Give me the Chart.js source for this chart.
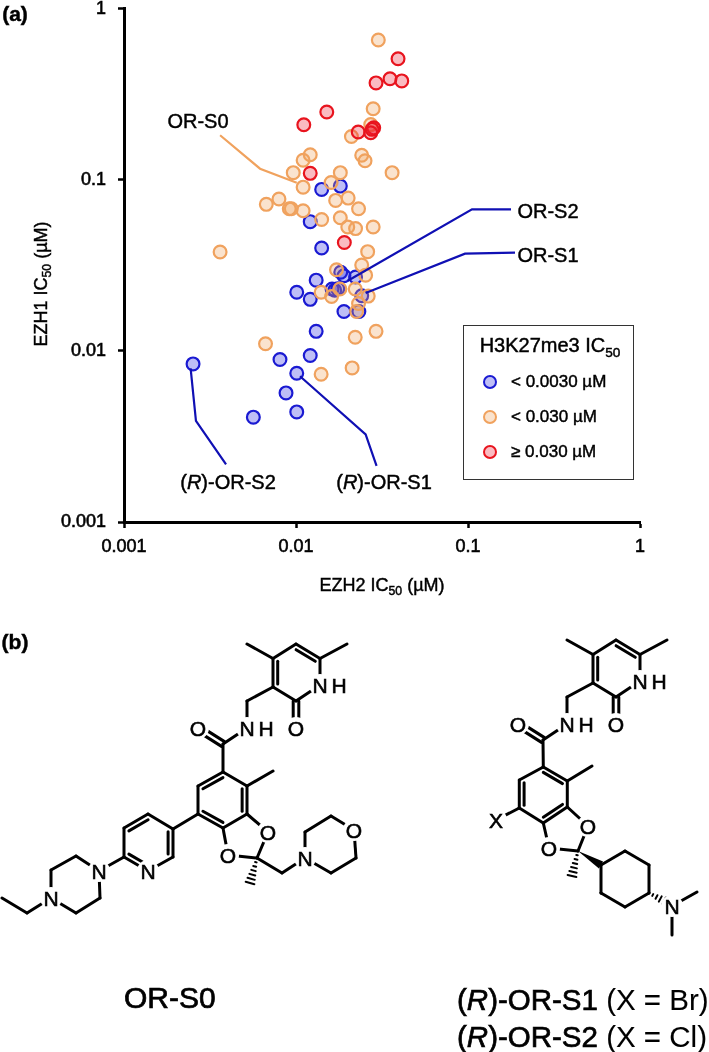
<!DOCTYPE html>
<html>
<head>
<meta charset="utf-8">
<script src="https://cdn.jsdelivr.net/npm/chart.js@4"></script>
<style>
body { margin: 0; background: #fff; }
#page { position: relative; width: 709px; height: 1052px; overflow: hidden; font-family: "Liberation Sans", sans-serif; color: #000; }
#myChart { position: absolute; left: 0; top: 0; }
#mol { position: absolute; left: 0; top: 0; }
.t { position: absolute; transform: translate(-50%, -50%); white-space: nowrap; -webkit-text-stroke: 0.45px #000; }
.t sub { font-size: 0.68em; line-height: 0; }
.l20 { font-size: 20px; }
.l18 { font-size: 18px; }
.big { font-size: 29.5px; -webkit-text-stroke: 0.7px #000; transform: translate(0, -50%); }
.big span { -webkit-text-stroke: 0.1px #000; }
#legendBox { position: absolute; left: 463px; top: 325px; width: 169px; height: 153px; border: 1.5px solid #333; box-sizing: content-box; background: #fff; }
.dot { position: absolute; width: 10px; height: 10px; border-width: 2px; border-style: solid; border-radius: 50%; transform: translate(-50%, -50%); }
</style>
</head>
<body>
<div id="page">
  <canvas id="myChart" width="709" height="610"></canvas>
  <svg id="mol" width="709" height="1052"></svg>
  <div class="t" style="left:15px;top:14px;font-size:21px;font-weight:bold">(a)</div>
  <div class="t" style="left:15px;top:642px;font-size:21px;font-weight:bold">(b)</div>
  <div class="t l18" style="left:382px;top:585px">EZH2 IC<sub>50</sub> (µM)</div>
  <div class="t l18" style="left:41px;top:284px;transform:translate(-50%,-50%) rotate(-90deg)">EZH1 IC<sub>50</sub> (µM)</div>
  <div class="t l20" style="left:198px;top:121px">OR-S0</div>
  <div class="t l20" style="left:548px;top:211px">OR-S2</div>
  <div class="t l20" style="left:548px;top:255px">OR-S1</div>
  <div class="t l20" style="left:228px;top:482px">(<i>R</i>)-OR-S2</div>
  <div class="t l20" style="left:384px;top:482px">(<i>R</i>)-OR-S1</div>
  <div id="legendBox"></div>
  <div class="t big" style="left:124px;top:998px;font-size:30px">OR-S0</div>
  <div class="t big" style="left:457px;top:1000px">(<i>R</i>)-OR-S1<span> (X = Br)</span></div>
  <div class="t big" style="left:457px;top:1037px">(<i>R</i>)-OR-S2<span> (X = Cl)</span></div>
</div>
<script>
var axisTicks = [0.001, 0.01, 0.1, 1];

var blueX = [0.0141, 0.0181, 0.0121, 0.0141, 0.0182, 0.0190, 0.0222, 0.0131, 0.0101, 0.0121, 0.0162, 0.0168, 0.0175, 0.0241, 0.0190, 0.0232, 0.0131, 0.00252, 0.0121, 0.00807, 0.0101, 0.00875, 0.0101, 0.00565];
var blueY = [0.0878, 0.0918, 0.0569, 0.0399, 0.0288, 0.0275, 0.0270, 0.0259, 0.0220, 0.0200, 0.0230, 0.0226, 0.0231, 0.0210, 0.0170, 0.0170, 0.0130, 0.00839, 0.00939, 0.00890, 0.00740, 0.00568, 0.00440, 0.00410];

var orangeX = [0.0301, 0.0281, 0.0272, 0.0210, 0.0241, 0.0252, 0.0121, 0.0110, 0.00964, 0.0181, 0.0362, 0.0160, 0.0110, 0.00796, 0.00672, 0.00914, 0.00939, 0.0110, 0.0170, 0.0201, 0.0231, 0.0141, 0.0181, 0.0200, 0.0222, 0.0281, 0.00362, 0.0261, 0.0241, 0.0172, 0.0254, 0.0140, 0.0161, 0.0180, 0.0221, 0.0263, 0.0231, 0.0225, 0.0292, 0.0221, 0.00665, 0.0140, 0.0212];
var orangeY = [0.656, 0.260, 0.210, 0.179, 0.139, 0.129, 0.140, 0.130, 0.110, 0.110, 0.110, 0.0964, 0.0905, 0.0771, 0.0718, 0.0677, 0.0677, 0.0659, 0.0757, 0.0781, 0.0677, 0.0586, 0.0600, 0.0529, 0.0518, 0.0529, 0.0378, 0.0380, 0.0317, 0.0298, 0.0277, 0.0220, 0.0208, 0.0230, 0.0230, 0.0209, 0.0189, 0.0170, 0.0130, 0.0120, 0.0110, 0.00730, 0.00795];

var redX = [0.0392, 0.0352, 0.0412, 0.0292, 0.0151, 0.0111, 0.0283, 0.0230, 0.0272, 0.0277, 0.0121, 0.0191];
var redY = [0.509, 0.389, 0.378, 0.368, 0.249, 0.2095, 0.201, 0.190, 0.188, 0.197, 0.109, 0.0430];

// leader lines from the compound names to their points
var leadS0X = [0.00362, 0.00618, 0.0101];
var leadS0Y = [0.182, 0.116, 0.0960];
var leadS2X = [0.0200, 0.1055, 0.1778];
var leadS2Y = [0.0257, 0.0671, 0.0671];
var leadS1X = [0.0254, 0.0961, 0.1876];
var leadS1Y = [0.0218, 0.0370, 0.0375];
var leadRS2X = [0.00244, 0.00262, 0.00392];
var leadRS2Y = [0.00789, 0.00390, 0.00217];
var leadRS1X = [0.01055, 0.0254, 0.0294];
var leadRS1Y = [0.00711, 0.00325, 0.00213];

var legendTitle = "H3K27me3 IC<sub>50</sub>";
var legendLabels = ["< 0.0030 µM", "< 0.030 µM", "≥ 0.030 µM"];

var blueLine = "#1a1ad2", orangeLine = "#f0a25e", redLine = "#e8141e";
var blueFill = "rgba(40,40,225,0.30)", orangeFill = "rgba(240,162,94,0.30)", redFill = "rgba(240,30,50,0.30)";

function zip(xs, ys) {
    return xs.map(function (x, i) { return { x: x, y: ys[i] }; });
}
function pointSet(label, xs, ys, line, fill, order) {
    return { label: label, data: zip(xs, ys), borderColor: line, backgroundColor: fill, borderWidth: 2.2, pointRadius: 6.4, order: order };
}
function leader(xs, ys, color) {
    return { data: zip(xs, ys), showLine: true, borderColor: color, borderWidth: 2.2, pointRadius: 0, tension: 0, order: 0 };
}
function logAxis(labelPad) {
    return {
        type: 'logarithmic',
        min: 0.001,
        max: 1,
        border: { display: true, color: '#000', width: 3 },
        grid: { drawOnChartArea: false, drawTicks: true, tickLength: 6, tickWidth: 2.5, tickColor: '#000' },
        afterBuildTicks: function (s) { s.ticks = axisTicks.map(function (v) { return { value: v }; }); },
        ticks: {
            autoSkip: false, maxRotation: 0, padding: labelPad, color: '#000',
            textStrokeColor: '#000', textStrokeWidth: 0.6,
            font: { family: '"Liberation Sans"', size: 18 },
            callback: function (v) { return String(v); }
        }
    };
}

var xAxis = logAxis(8);
xAxis.afterFit = function (s) { s.height = 610 - 522; };
var yAxis = logAxis(12);
yAxis.afterFit = function (s) { s.width = 124; s.paddingTop = 0; s.paddingBottom = 0; };

var ctx = document.getElementById("myChart");
var myChart = new Chart(ctx, {
    type: 'scatter',
    data: {
        datasets: [
            leader(leadS0X, leadS0Y, orangeLine),
            leader(leadS2X, leadS2Y, "#1010b4"),
            leader(leadS1X, leadS1Y, "#1010b4"),
            leader(leadRS2X, leadRS2Y, "#1010b4"),
            leader(leadRS1X, leadRS1Y, "#1010b4"),
            pointSet("< 0.0030 µM", blueX, blueY, blueLine, blueFill, 3),
            pointSet("< 0.030 µM", orangeX, orangeY, orangeLine, orangeFill, 2),
            pointSet("≥ 0.030 µM", redX, redY, redLine, redFill, 1)
        ]
    },
    options: {
        responsive: false,
        animation: false,
        devicePixelRatio: 1,
        layout: { padding: { top: 8, right: 69, left: 0, bottom: 0 } },
        plugins: { legend: { display: false }, tooltip: { enabled: false } },
        scales: { x: xAxis, y: yAxis }
    }
});

// legend box
var box = document.getElementById("legendBox");
var html = '<div class="t" style="left:86px;top:19px;font-size:20px">' + legendTitle + '</div>';
var dotColors = [[blueLine, blueFill], [orangeLine, orangeFill], [redLine, redFill]];
legendLabels.forEach(function (txt, i) {
    var y = 56 + i * 35;
    html += '<div class="dot" style="left:26px;top:' + y + 'px;border-color:' + dotColors[i][0] + ';background:' + dotColors[i][1] + '"></div>';
    html += '<div class="t" style="left:47px;top:' + y + 'px;font-size:17px;transform:translate(0,-50%)">' + txt.replace('<', '&lt;') + '</div>';
});
box.innerHTML = html;

// chemical structures
var svg = '';
function line(p, q, w) {
    svg += '<line x1="' + p[0] + '" y1="' + p[1] + '" x2="' + q[0] + '" y2="' + q[1] + '" stroke="#000" stroke-width="' + (w || 3) + '" stroke-linecap="round"/>';
}
function inner(p, q, c) {
    // second line of a ring double bond, pulled toward the ring centre
    var a = [p[0] + (c[0] - p[0]) * 0.2, p[1] + (c[1] - p[1]) * 0.2];
    var b = [q[0] + (c[0] - q[0]) * 0.2, q[1] + (c[1] - q[1]) * 0.2];
    line(a, b);
}
function dbl(p, q) {
    var dx = q[0] - p[0], dy = q[1] - p[1], len = Math.sqrt(dx * dx + dy * dy);
    var ox = -dy / len * 2.8, oy = dx / len * 2.8;
    line([p[0] + ox, p[1] + oy], [q[0] + ox, q[1] + oy]);
    line([p[0] - ox, p[1] - oy], [q[0] - ox, q[1] - oy]);
}
function hash(p, q, n, wid) {
    var dx = q[0] - p[0], dy = q[1] - p[1], len = Math.sqrt(dx * dx + dy * dy);
    for (var i = 1; i <= n; i++) {
        var f = i / n, hw = wid * f / 2;
        var cx = p[0] + dx * f, cy = p[1] + dy * f;
        line([cx - dy / len * hw, cy + dx / len * hw], [cx + dy / len * hw, cy - dx / len * hw], 2);
    }
}
function wedge(p, q, wid) {
    var dx = q[0] - p[0], dy = q[1] - p[1], len = Math.sqrt(dx * dx + dy * dy);
    var ox = -dy / len * wid / 2, oy = dx / len * wid / 2;
    svg += '<polygon fill="#000" points="' + p[0] + ',' + p[1] + ' ' + (q[0] + ox) + ',' + (q[1] + oy) + ' ' + (q[0] - ox) + ',' + (q[1] - oy) + '"/>';
}
function letter(txt, p) {
    svg += '<text x="' + p[0] + '" y="' + (p[1] + 7.5) + '" text-anchor="middle" font-family="Liberation Sans" font-size="21" fill="#000" stroke="#000" stroke-width="0.6">' + txt + '</text>';
}
function atom(txt, p) {
    svg += '<circle cx="' + p[0] + '" cy="' + p[1] + '" r="11" fill="#fff"/>';
    letter(txt, p);
}

function headPart(dx, dy) {
    function s(p) { return [p[0] + dx, p[1] + dy]; }
    var me1 = s([247, 644]), c4 = s([273, 658.5]), c5 = s([296, 644]), c6 = s([320, 658.5]), me2 = s([347, 644]);
    var n1 = s([320, 685]), c3 = s([273, 687]), c2 = s([296, 701]), o2 = s([296, 728]);
    var ch2 = s([247, 701]), nh = s([247, 728]), cam = s([223, 744]), oam = s([198, 728]);
    var mid = s([296.5, 672.5]);
    line(me1, c4); line(c4, c5); line(c5, c6); line(c6, me2); line(c6, n1); line(n1, c2); line(c2, c3); line(c3, c4);
    inner(c4, c3, mid); inner(c5, c6, mid);
    dbl(c2, [o2[0], o2[1] - 6]);
    line(c3, ch2); line(ch2, nh); line(nh, cam);
    dbl(cam, [oam[0] + 6, oam[1] + 4]);
    return { n1: n1, o2: o2, nh: nh, oam: oam, cam: cam };
}
function heteroLabels(h) {
    atom('N', h.n1); letter('H', [h.n1[0] + 19, h.n1[1]]);
    atom('O', h.o2);
    atom('N', h.nh); letter('H', [h.nh[0] + 19, h.nh[1]]);
    atom('O', h.oam);
}

// OR-S0
var hL = headPart(0, 0);
var r1 = [223, 772], r2 = [247, 786], r3 = [247, 814], r4 = [223, 828], r5 = [198, 814], r6 = [198, 786], rc = [222.7, 800];
line(hL.cam, r1); line(r1, r2); line(r2, r3); line(r3, r4); line(r4, r5); line(r5, r6); line(r6, r1);
inner(r6, r1, rc); inner(r2, r3, rc); inner(r4, r5, rc);
line(r2, [273, 771]);
var o3 = [268, 832], k = [257, 858], o4 = [228, 855];
line(r3, o3); line(o3, k); line(k, o4); line(o4, r4);
hash(k, [250, 883], 6, 9);
var ch = [282, 873], nm = [305, 858];
line(k, ch); line(ch, nm);
var m1 = [305, 832], m2 = [331, 816], om = [354, 830], m3 = [356, 858], m4 = [331, 873];
line(nm, m1); line(m1, m2); line(m2, om); line(om, m3); line(m3, m4); line(m4, nm);
var p3 = [173, 829], p4 = [148, 814], p5 = [124, 828], p6 = [124, 857], pn = [148, 871], p2 = [173, 857], pc = [148.5, 842.5];
line(r5, p3); line(p3, p4); line(p4, p5); line(p5, p6); line(p6, pn); line(pn, p2); line(p2, p3);
inner(p4, p5, pc); inner(p3, p2, pc); inner(p6, pn, pc);
var np1 = [99, 871], z1 = [76, 856], z2 = [51, 870], np2 = [51, 898], z3 = [76, 913], z4 = [100, 898];
line(p6, np1); line(np1, z1); line(z1, z2); line(z2, np2); line(np2, z3); line(z3, z4); line(z4, np1);
line(np2, [27, 913]); line([27, 913], [2, 898]);
heteroLabels(hL);
atom('O', o3); atom('O', o4); atom('N', nm); atom('O', om); atom('N', pn); atom('N', np1); atom('N', np2);

// (R)-OR-S1 / (R)-OR-S2
var hR = headPart(320, -4);
var q1 = [543.3, 767], q2 = [567.3, 781], q3 = [567.3, 807], q4 = [543.3, 823], q5 = [519.3, 808], q6 = [519.3, 780], qc = [543.3, 794];
line(hR.cam, q1); line(q1, q2); line(q2, q3); line(q3, q4); line(q4, q5); line(q5, q6); line(q6, q1);
inner(q1, q2, qc); inner(q3, q4, qc); inner(q5, q6, qc);
line(q2, [592, 766]);
line(q5, [496, 820]);
var o5 = [588, 826], k2 = [578, 851], o6 = [549, 848];
line(q3, o5); line(o5, k2); line(k2, o6); line(o6, q4);
hash(k2, [572, 876], 6, 9);
var y1 = [601, 865], y2 = [625, 851], y3 = [649, 865], y4 = [649, 893], y5 = [625, 907], y6 = [601, 893];
wedge(k2, y1, 8);
line(y1, y2); line(y2, y3); line(y3, y4); line(y4, y5); line(y5, y6); line(y6, y1);
var nq = [672, 906];
line(nq, [697, 892]); line(nq, [672, 935]);
hash(y4, [664, 901], 4, 8);
heteroLabels(hR);
atom('X', [496, 820]); atom('O', o5); atom('O', o6); atom('N', nq);

document.getElementById("mol").innerHTML = svg;
</script>
</body>
</html>
